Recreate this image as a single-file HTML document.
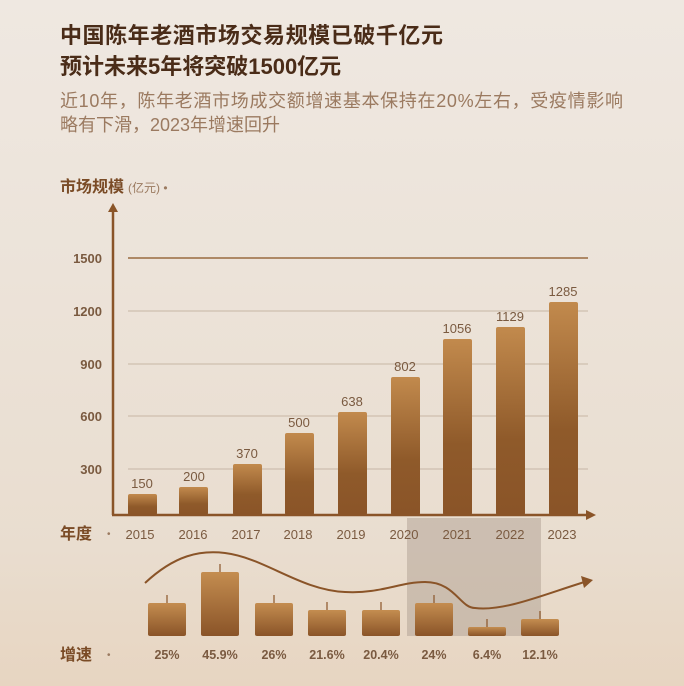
<!DOCTYPE html>
<html><head><meta charset="utf-8"><style>
html,body{margin:0;padding:0}
body{width:684px;height:686px;overflow:hidden;background:linear-gradient(180deg,#efe8e1 0%,#ece3d9 40%,#e9ddcf 80%,#e7d5c1 100%);font-family:"Liberation Sans","Noto Sans CJK SC",sans-serif;position:relative}
</style></head><body>
<svg width="684" height="686" style="position:absolute;left:0;top:0" font-family="Liberation Sans, Noto Sans CJK SC, sans-serif">
<defs>
<linearGradient id="b" x1="0" y1="0" x2="0" y2="1"><stop offset="0" stop-color="#c28a4d"/><stop offset="0.6" stop-color="#8f5a2a"/><stop offset="1" stop-color="#8a5428"/></linearGradient>
<linearGradient id="g" x1="0" y1="0" x2="0" y2="1"><stop offset="0" stop-color="#c48d50"/><stop offset="1" stop-color="#8a5428"/></linearGradient>
</defs>
<text x="60" y="43" font-size="22" font-weight="bold" fill="#4a2c18" textLength="383">中国陈年老酒市场交易规模已破千亿元</text>
<text x="60" y="74" font-size="22" font-weight="bold" fill="#4a2c18">预计未来5年将突破1500亿元</text>
<text x="60" y="107" font-size="18" fill="#9b7a60" textLength="563">近10年，陈年老酒市场成交额增速基本保持在20%左右，受疫情影响</text>
<text x="60" y="131" font-size="18" fill="#9b7a60">略有下滑，2023年增速回升</text>
<text x="60" y="192" font-size="16" font-weight="bold" fill="#7a4b26">市场规模</text>
<text x="128" y="192" font-size="12" fill="#9b7a60">(亿元)  •</text>
<rect x="407" y="518" width="134" height="118" fill="#a89a8c" opacity="0.45"/>
<g stroke="#c7b6a5" stroke-width="1"><line x1="128" y1="311" x2="588" y2="311"/><line x1="128" y1="364" x2="588" y2="364"/><line x1="128" y1="416" x2="588" y2="416"/><line x1="128" y1="469" x2="588" y2="469"/></g>
<line x1="128" y1="258" x2="588" y2="258" stroke="#9a6b40" stroke-width="1.5"/>
<g font-size="13" font-weight="bold" fill="#7a5a40" text-anchor="end"><text x="102" y="263">1500</text><text x="102" y="316">1200</text><text x="102" y="369">900</text><text x="102" y="421">600</text><text x="102" y="474">300</text></g>
<line x1="113" y1="210" x2="113" y2="515" stroke="#8a5428" stroke-width="2.5"/>
<polygon points="108,212 118,212 113,203" fill="#8a5428"/>
<line x1="112" y1="515" x2="588" y2="515" stroke="#8a5428" stroke-width="2.5"/>
<polygon points="586,510 586,520 596,515" fill="#8a5428"/>
<g fill="url(#b)">
<rect x="128" y="494" width="29" height="21" rx="2"/><rect x="179" y="487" width="29" height="28" rx="2"/><rect x="233" y="464" width="29" height="51" rx="2"/><rect x="285" y="433" width="29" height="82" rx="2"/><rect x="338" y="412" width="29" height="103" rx="2"/><rect x="391" y="377" width="29" height="138" rx="2"/><rect x="443" y="339" width="29" height="176" rx="2"/><rect x="496" y="327" width="29" height="188" rx="2"/><rect x="549" y="302" width="29" height="213" rx="2"/>
</g>
<g font-size="13" fill="#7a5a40" text-anchor="middle"><text x="142" y="488">150</text><text x="194" y="481">200</text><text x="247" y="458">370</text><text x="299" y="427">500</text><text x="352" y="406">638</text><text x="405" y="371">802</text><text x="457" y="333">1056</text><text x="510" y="321">1129</text><text x="563" y="296">1285</text></g>
<text x="60" y="539" font-size="16" font-weight="bold" fill="#7a4b26">年度</text>
<text x="107" y="537" font-size="10" fill="#9b7a60">•</text>
<g font-size="13" fill="#7a5a40" text-anchor="middle"><text x="140" y="539">2015</text><text x="193" y="539">2016</text><text x="246" y="539">2017</text><text x="298" y="539">2018</text><text x="351" y="539">2019</text><text x="404" y="539">2020</text><text x="457" y="539">2021</text><text x="510" y="539">2022</text><text x="562" y="539">2023</text></g>
<path d="M145,583 C175,555 200,550 225,553 C265,558 300,590 345,592 C380,594 400,582 425,582 C455,582 460,608 475,608 C505,612 550,592 588,581" fill="none" stroke="#8a5428" stroke-width="2"/>
<polygon points="581,576 593,580 584,588" fill="#8a5428"/>
<g stroke="#8a5428" stroke-width="1.2"><line x1="167" y1="595" x2="167" y2="604"/><line x1="220" y1="564" x2="220" y2="573"/><line x1="274" y1="595" x2="274" y2="604"/><line x1="327" y1="602" x2="327" y2="611"/><line x1="381" y1="602" x2="381" y2="611"/><line x1="434" y1="595" x2="434" y2="604"/><line x1="487" y1="619" x2="487" y2="627"/><line x1="540" y1="611" x2="540" y2="619"/></g>
<g fill="url(#g)">
<rect x="148" y="603" width="38" height="33" rx="2"/><rect x="201" y="572" width="38" height="64" rx="2"/><rect x="255" y="603" width="38" height="33" rx="2"/><rect x="308" y="610" width="38" height="26" rx="2"/><rect x="362" y="610" width="38" height="26" rx="2"/><rect x="415" y="603" width="38" height="33" rx="2"/><rect x="468" y="627" width="38" height="9" rx="2"/><rect x="521" y="619" width="38" height="17" rx="2"/>
</g>
<text x="60" y="660" font-size="16" font-weight="bold" fill="#7a4b26">增速</text>
<text x="107" y="658" font-size="10" fill="#9b7a60">•</text>
<g font-size="12.5" font-weight="bold" fill="#7a5a40" text-anchor="middle"><text x="167" y="659">25%</text><text x="220" y="659">45.9%</text><text x="274" y="659">26%</text><text x="327" y="659">21.6%</text><text x="381" y="659">20.4%</text><text x="434" y="659">24%</text><text x="487" y="659">6.4%</text><text x="540" y="659">12.1%</text></g>
</svg>
</body></html>
